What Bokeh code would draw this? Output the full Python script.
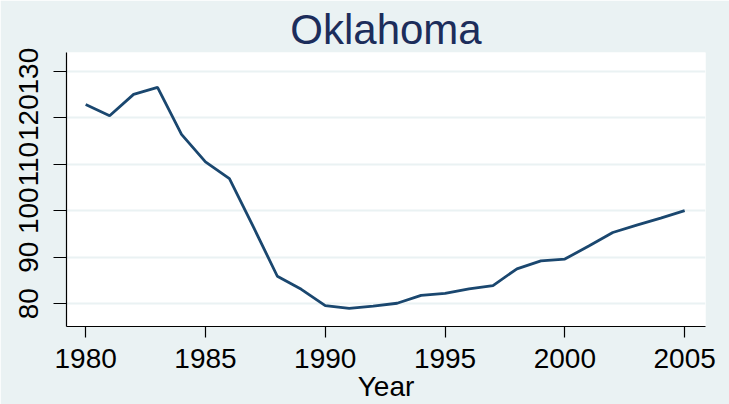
from bokeh.plotting import figure
from bokeh.models import FixedTicker, Range1d
from bokeh.embed import file_html
from bokeh.resources import INLINE

years = list(range(1980, 2006))
values = [122.8, 120.4, 125.0, 126.5, 116.4, 110.5, 106.9, 96.5, 85.9, 83.1,
          79.6, 79.0, 79.5, 80.1, 81.8, 82.2, 83.2, 83.9, 87.5, 89.2,
          89.6, 92.4, 95.3, 96.9, 98.4, 100.0]
x_ticks = [1980, 1985, 1990, 1995, 2000, 2005]
y_ticks = [80, 90, 100, 110, 120, 130]

BG = "#EAF2F3"
FONT = "Liberation Sans"

p = figure(width=729, height=404, output_backend="svg", toolbar_location=None,
           x_range=Range1d(1979.2, 2005.87), y_range=Range1d(75.1, 134.0),
           title="Oklahoma")
p.min_border_left = 66
p.min_border_right = 24
p.min_border_top = 52
p.min_border_bottom = 78

p.border_fill_color = BG
p.background_fill_color = "white"
p.outline_line_color = None

p.title.align = "center"
p.title.text_font = FONT
p.title.text_font_size = "42px"
p.title.text_font_style = "normal"
p.title.text_color = "#1C2D5B"
p.title.standoff = 0

p.line(years, values, line_color="#1A476F", line_width=2.8)

p.xaxis.ticker = FixedTicker(ticks=x_ticks)
p.yaxis.ticker = FixedTicker(ticks=y_ticks)
p.xaxis.axis_label = "Year"
for ax in (p.xaxis, p.yaxis):
    ax.axis_line_color = "black"
    ax.axis_line_width = 1.2
    ax.major_tick_line_color = "black"
    ax.major_tick_line_width = 1.2
    ax.major_tick_in = 0
    ax.minor_tick_line_color = None
    ax.major_label_text_font = FONT
    ax.major_label_text_font_size = "28px"
    ax.major_label_text_color = "black"
    ax.axis_label_text_font = FONT
    ax.axis_label_text_font_size = "28px"
    ax.axis_label_text_font_style = "normal"
    ax.axis_label_text_color = "black"
p.xaxis.major_tick_out = 11
p.yaxis.major_tick_out = 13
p.xaxis.major_label_standoff = 11
p.xaxis.axis_label_standoff = 0
p.yaxis.major_label_standoff = 15
p.yaxis.major_label_orientation = "vertical"

p.xgrid.grid_line_color = None
p.ygrid.grid_line_color = BG
p.ygrid.grid_line_width = 2

open("out.html", "w").write(file_html(p, INLINE))
